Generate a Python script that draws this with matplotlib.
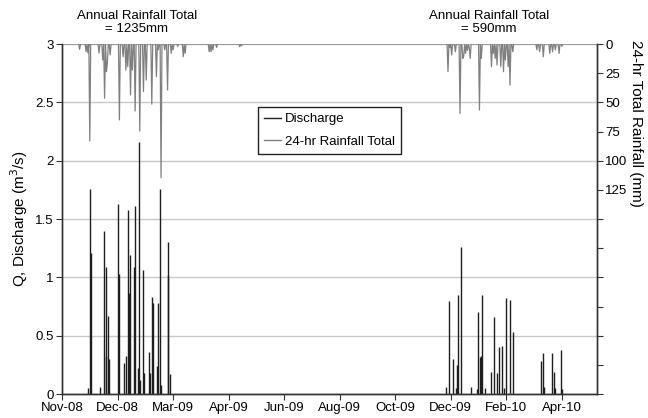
import numpy as np
import pandas as pd
import matplotlib
matplotlib.use('Agg')
import matplotlib.pyplot as plt
import matplotlib.dates as mdates
from matplotlib.lines import Line2D

plt.rcParams['font.family'] = ['Liberation Sans', 'DejaVu Sans']
plt.rcParams['font.size'] = 9.5

start = '2008-11-01'
end = '2010-06-02'

# daily discharge (m3/s), days not listed are zero flow
q_dates = ['2008-11-29', '2008-12-01', '2008-12-02', '2008-12-12', '2008-12-16',
           '2008-12-18', '2008-12-19', '2008-12-21', '2008-12-22', '2009-01-01',
           '2009-01-02', '2009-01-07', '2009-01-09', '2009-01-11', '2009-01-12',
           '2009-01-13', '2009-01-18', '2009-01-19', '2009-01-22', '2009-01-23',
           '2009-01-24', '2009-01-27', '2009-01-29', '2009-02-03', '2009-02-04',
           '2009-02-06', '2009-02-07', '2009-02-12', '2009-02-13', '2009-02-15',
           '2009-02-16', '2009-02-23', '2009-02-24', '2009-02-26',
           '2009-12-21', '2009-12-24', '2009-12-28', '2010-01-01', '2010-01-02',
           '2010-01-03', '2010-01-06', '2010-01-17', '2010-01-23', '2010-01-24',
           '2010-01-27', '2010-01-28', '2010-01-29', '2010-02-01', '2010-02-08',
           '2010-02-11', '2010-02-14', '2010-02-16', '2010-02-19', '2010-02-22',
           '2010-02-24', '2010-02-28', '2010-03-03', '2010-04-03', '2010-04-05',
           '2010-04-06', '2010-04-14', '2010-04-17', '2010-04-18', '2010-04-24',
           '2010-04-25']
q_vals = [0.05, 1.76, 1.21, 0.06, 1.40,
          1.09, 0.33, 0.67, 0.30, 1.63,
          1.03, 0.27, 0.33, 1.58, 0.87,
          1.19, 1.09, 1.61, 0.22, 2.16,
          0.12, 1.06, 0.18, 0.36, 0.18,
          0.83, 0.78, 0.24, 0.78, 1.76,
          0.08, 1.30, 1.02, 0.17,
          0.06, 0.80, 0.30, 0.05, 0.25,
          0.85, 1.26, 0.06, 0.04, 0.70,
          0.32, 0.33, 0.85, 0.05, 0.19,
          0.66, 0.18, 0.40, 0.41, 0.05,
          0.82, 0.81, 0.53, 0.28, 0.35,
          0.06, 0.35, 0.19, 0.05, 0.38,
          0.04]

# daily rainfall (mm)
rain_dates = ['2008-11-20', '2008-11-27', '2008-11-29', '2008-12-01', '2008-12-11',
              '2008-12-15', '2008-12-17', '2008-12-19', '2008-12-20', '2008-12-23',
              '2009-01-02', '2009-01-06', '2009-01-09', '2009-01-11', '2009-01-14',
              '2009-01-16', '2009-01-19', '2009-01-24', '2009-01-28', '2009-01-31',
              '2009-02-06', '2009-02-11', '2009-02-13', '2009-02-16', '2009-02-20',
              '2009-02-23', '2009-02-27', '2009-03-01', '2009-03-06', '2009-03-12',
              '2009-03-14', '2009-04-09', '2009-04-11', '2009-04-13', '2009-04-17',
              '2009-05-12', '2009-05-14',
              '2009-12-23', '2009-12-25', '2009-12-27', '2009-12-31', '2010-01-05',
              '2010-01-08', '2010-01-09', '2010-01-11', '2010-01-13', '2010-01-15',
              '2010-01-16', '2010-01-26', '2010-01-28', '2010-02-08', '2010-02-10',
              '2010-02-12', '2010-02-14', '2010-02-18', '2010-02-21', '2010-02-23',
              '2010-02-26', '2010-02-28', '2010-03-03', '2010-03-29', '2010-04-01',
              '2010-04-05', '2010-04-12', '2010-04-15', '2010-04-18', '2010-04-22',
              '2010-04-25']
rain_vals = [4.6, 6.6, 7.7, 83.0, 7.7,
             13.7, 46.5, 23.7, 16.6, 9.4,
             65.0, 10.9, 22.3, 19.4, 43.7,
             22.3, 57.4, 74.6, 40.8, 30.9,
             51.5, 28.0, 5.0, 114.6, 5.0,
             39.4, 8.0, 5.0, 2.0, 10.9,
             8.0, 6.6, 6.6, 5.0, 3.0,
             2.3, 1.5,
             23.7, 3.0, 9.4, 6.6, 59.4,
             12.3, 10.5, 8.0, 5.5, 3.0,
             12.3, 56.6, 12.3, 19.4, 8.0,
             12.3, 18.0, 19.4, 23.7, 13.7,
             19.4, 35.1, 6.6, 5.0, 6.6,
             10.9, 8.0, 6.6, 5.0, 8.0,
             2.0]

days = pd.date_range(start, end, freq='D')
q = pd.Series(0.0, index=days)
q[pd.to_datetime(q_dates)] = q_vals
rain = pd.Series(0.0, index=days)
rain[pd.to_datetime(rain_dates)] = rain_vals

tick_dates = pd.date_range(start, periods=10, freq='60D')

fig = plt.figure(figsize=(6.48, 4.18), dpi=100)
ax = fig.add_axes([0.0957, 0.0574, 0.8256, 0.8373])
ax2 = ax.twinx()

# discharge as thin spikes from the zero line
wet = q[q > 0]
ax.vlines(wet.index, 0, wet.values, color='#1e1e1e', lw=1.0)
ax2.plot(rain.index, rain.values, color='#808080', lw=0.9)

ax.set_xlim(pd.Timestamp(start), pd.Timestamp(end))
ax.set_ylim(0, 3)
ax.set_yticks(np.arange(0, 3.01, 0.5))
ax.set_yticklabels(['0', '0.5', '1', '1.5', '2', '2.5', '3'])
ax.yaxis.grid(True, color='#c8c8c8', lw=1)
ax.set_axisbelow(True)
ax.set_xticks(tick_dates)
ax.xaxis.set_major_formatter(mdates.DateFormatter('%b-%y'))
ax.set_ylabel('Q, Discharge (m$^3$/s)', fontsize=11, labelpad=4)

ax2.set_ylim(300, 0)
rticks = np.arange(0, 301, 25)
ax2.set_yticks(rticks)
ax2.set_yticklabels([str(t) if t <= 125 else '' for t in rticks])

for a in (ax, ax2):
    a.spines['top'].set_visible(False)
    for s in ('left', 'right', 'bottom'):
        a.spines[s].set_color('#333333')
        a.spines[s].set_linewidth(1)
    a.tick_params(direction='out', length=4, width=0.8, color='#333333', pad=2)

fig.text(636 / 648, 0.705, '24-hr Total Rainfall (mm)', rotation=270,
         ha='center', va='center', fontsize=11)

fig.text(0.211, 0.946, 'Annual Rainfall Total\n= 1235mm', ha='center', va='center',
         linespacing=1.15)
fig.text(0.755, 0.946, 'Annual Rainfall Total\n= 590mm', ha='center', va='center',
         linespacing=1.15)

handles = [Line2D([], [], color='#1e1e1e', lw=1),
           Line2D([], [], color='#808080', lw=1)]
leg = ax2.legend(handles, ['Discharge', '24-hr Rainfall Total'],
                 loc='upper left', bbox_to_anchor=(0.366, 0.82),
                 borderaxespad=0, fancybox=False, framealpha=1,
                 edgecolor='#222222', handlelength=1.3, handletextpad=0.3,
                 borderpad=0.45, labelspacing=0.8)
leg.get_frame().set_linewidth(1)

fig.savefig('out.png', dpi=100)
